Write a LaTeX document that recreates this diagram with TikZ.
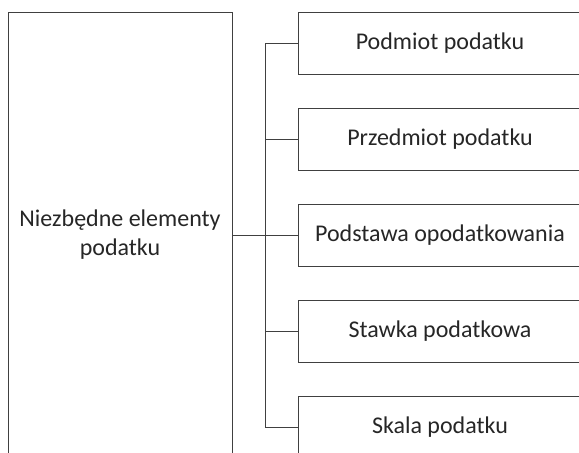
\documentclass[tikz,border=0pt]{standalone}
\usepackage{fontspec}
\setmainfont{Carlito}
\usetikzlibrary{positioning}
\definecolor{linegray}{HTML}{404040}
\definecolor{textgray}{HTML}{262626}
\newcommand{\elemfont}{\fontsize{24}{29}\selectfont}

\begin{document}
\begin{tikzpicture}[x=1pt,y=1pt,line width=0.9pt,
  every node/.style={text=textgray,font=\elemfont,align=center,inner sep=0pt,outer sep=0pt},
  elem/.style={draw=linegray,minimum width=284pt,minimum height=62pt},
  node distance=34pt]
  \useasboundingbox (0,0) rectangle (579,-453);
  \clip (0,0) rectangle (579,-453);

  % main element on the left
  \node[draw=linegray,minimum width=224pt,minimum height=446pt] (main) at (120,-235)
    {Niezbędne elementy\\ podatku};

  % elements on the right
  \node[elem] (podmiot) at (440,-43) {Podmiot podatku};
  \node[elem,below=of podmiot] (przedmiot) {Przedmiot podatku};
  \node[elem,below=of przedmiot] (podstawa) {Podstawa opodatkowania};
  \node[elem,below=of podstawa] (stawka) {Stawka podatkowa};
  \node[elem,below=of stawka] (skala) {Skala podatku};

  % connectors
  \draw[linegray] (main.east) -- (podstawa.west);
  \draw[linegray] (podmiot.west) -- ++(-33,0) coordinate (bus) |- (skala.west);
  \foreach \n in {przedmiot,stawka}
    \draw[linegray] (\n.west) -- (\n.west -| bus);

\end{tikzpicture}
\end{document}
